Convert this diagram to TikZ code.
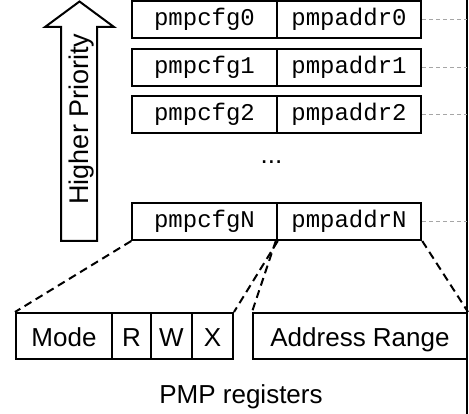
\documentclass[tikz,border=0pt]{standalone}
\usepackage{fontspec}
\setmainfont{Liberation Sans}
\setmonofont{Liberation Mono}
\begin{document}
\begin{tikzpicture}[x=1pt,y=-1pt,
  reg/.style={draw, line width=2pt, inner sep=0pt, minimum height=37pt, minimum width=144.5pt,
    text height=16pt, text depth=3pt,
    font=\fontsize{24}{28}\selectfont\ttfamily},
  fld/.style={draw, line width=2pt, inner sep=0pt, minimum height=46pt,
    text height=22pt, text depth=1pt,
    font=\fontsize{26}{30}\selectfont},
  zoomline/.style={line width=2pt, dash pattern=on 8pt off 5pt},
  dotline/.style={gray!70, line width=1pt, dash pattern=on 4pt off 3pt},
  lbl/.style={font=\fontsize{26}{30}\selectfont, inner sep=0pt}]
\useasboundingbox (0,0) rectangle (469,414);
% right border
\coordinate (vt) at (467,0);
\coordinate (vb) at (467,414);
\draw[line width=2pt] (vt) -- (vb);
% priority arrow
\draw[line width=2pt, line join=miter] (61,241) -- (61,27) -- (45,27) -- (79.5,1.5) -- (114,27) -- (97,27) -- (97,241) -- cycle;
\node[lbl, rotate=90, anchor=base, font=\fontsize{27}{30}\selectfont] (prio) at (88.5,119) {Higher Priority};
% registers
\node[reg] (cfg0) at (204.5,19.5) {pmpcfg0};
\node[reg] (addr0) at (349,19.5) {pmpaddr0};
\node[reg] (cfg1) at (204.5,67.5) {pmpcfg1};
\node[reg] (addr1) at (349,67.5) {pmpaddr1};
\node[reg] (cfg2) at (204.5,114.5) {pmpcfg2};
\node[reg] (addr2) at (349,114.5) {pmpaddr2};
\node[lbl, anchor=base] (dots) at (271.5,163.5) {...};
\node[reg] (cfgN) at (204.5,221.5) {pmpcfgN};
\node[reg] (addrN) at (349,221.5) {pmpaddrN};
% dotted continuations
\foreach \n in {addr0,addr1,addr2,addrN}{
  \draw[dotline] (\n.east) -- (\n.east -| vt);
}
% fields
\node[fld, minimum width=96pt] (mode) at (64,336) {Mode};
\node[fld, minimum width=39pt] (r) at (131.5,336) {R};
\node[fld, minimum width=41pt] (w) at (171.5,336) {W};
\node[fld, minimum width=41pt] (x) at (212.5,336) {X};
\node[fld, minimum width=214pt] (range) at (360,336) {Address Range};
% zoom lines
\draw[zoomline] (cfgN.south west) -- (mode.north west);
\draw[zoomline] (cfgN.south east) -- (x.north east);
\draw[zoomline] (addrN.south west) -- (range.north west);
\draw[zoomline] (addrN.south east) -- (range.north east);
\node[lbl, anchor=base] (cap) at (241,403) {PMP registers};
\end{tikzpicture}
\end{document}
